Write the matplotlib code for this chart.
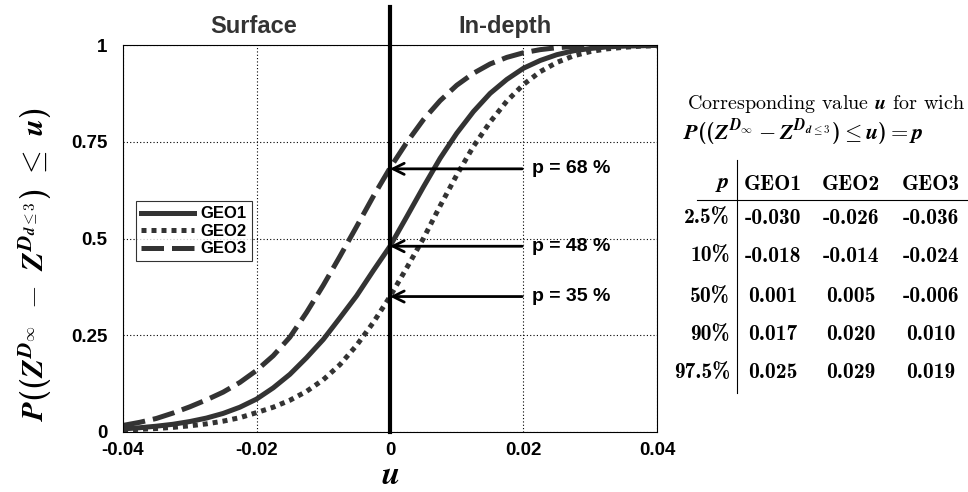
import matplotlib
matplotlib.use("Agg")
import matplotlib.pyplot as plt

plt.rcParams['font.family'] = ['Liberation Sans', 'DejaVu Sans']
plt.rcParams['mathtext.fontset'] = 'custom'
plt.rcParams['mathtext.rm'] = 'cmr10'
plt.rcParams['mathtext.it'] = 'cmmi10'
plt.rcParams['mathtext.bf'] = 'cmb10'
plt.rcParams['mathtext.bfit'] = 'STIXGeneral:italic:bold'
plt.rcParams['mathtext.fallback'] = 'cm'
plt.rcParams['axes.unicode_minus'] = False

# ---- data ----
u = [-0.0400, -0.0375, -0.0350, -0.0325, -0.0300, -0.0275, -0.0250, -0.0225,
     -0.0200, -0.0175, -0.0150, -0.0125, -0.0100, -0.0075, -0.0050, -0.0025,
     0.0000, 0.0025, 0.0050, 0.0075, 0.0100, 0.0125, 0.0150, 0.0175,
     0.0200, 0.0225, 0.0250, 0.0275, 0.0300, 0.0325, 0.0350, 0.0375, 0.0400]
geo1 = [0.008, 0.011, 0.015, 0.020, 0.027, 0.036, 0.048, 0.064,
        0.085, 0.114, 0.149, 0.192, 0.239, 0.295, 0.352, 0.417,
        0.480, 0.556, 0.633, 0.707, 0.772, 0.828, 0.875, 0.911,
        0.940, 0.960, 0.975, 0.985, 0.991, 0.995, 0.997, 0.998, 0.999]
geo2 = [0.005, 0.007, 0.009, 0.012, 0.016, 0.021, 0.028, 0.037,
        0.050, 0.064, 0.082, 0.105, 0.135, 0.174, 0.224, 0.283,
        0.350, 0.424, 0.500, 0.584, 0.664, 0.738, 0.801, 0.855,
        0.898, 0.931, 0.955, 0.972, 0.983, 0.990, 0.994, 0.997, 0.998]
geo3 = [0.017, 0.025, 0.035, 0.049, 0.065, 0.083, 0.103, 0.128,
        0.159, 0.197, 0.245, 0.309, 0.379, 0.454, 0.531, 0.609,
        0.682, 0.748, 0.807, 0.856, 0.896, 0.927, 0.951, 0.968,
        0.980, 0.988, 0.993, 0.996, 0.998, 0.999, 0.999, 1.000, 1.000]
series_names = ["GEO1", "GEO2", "GEO3"]
arrow_p = [0.68, 0.48, 0.35]
arrow_labels = ["p = 68 %", "p = 48 %", "p = 35 %"]
xticks = [-0.04, -0.02, 0, 0.02, 0.04]
xticklabels = ["-0.04", "-0.02", "0", "0.02", "0.04"]
yticks = [0, 0.25, 0.5, 0.75, 1]
yticklabels = ["0", "0.25", "0.5", "0.75", "1"]
table_p = ["2.5%", "10%", "50%", "90%", "97.5%"]
table_geo1 = ["-0.030", "-0.018", "0.001", "0.017", "0.025"]
table_geo2 = ["-0.026", "-0.014", "0.005", "0.020", "0.029"]
table_geo3 = ["-0.036", "-0.024", "-0.006", "0.010", "0.019"]

W, H = 968, 492
fig = plt.figure(figsize=(W / 100, H / 100), dpi=100)
ax = fig.add_axes([123 / W, 1 - 432 / H, (657 - 123) / W, (432 - 45) / H])

col = '#333333'
lw = 3.6
ax.plot(u, geo1, color=col, lw=lw, ls='-', label=series_names[0])
ax.plot(u, geo2, color=col, lw=lw, ls=(0, (1, 1)), label=series_names[1])
ax.plot(u, geo3, color=col, lw=lw, ls=(0, (4.5, 1.6)), label=series_names[2])

ax.set_xlim(-0.04, 0.04)
ax.set_ylim(0, 1)
ax.set_xticks(xticks)
ax.set_xticklabels(xticklabels, fontweight='bold', fontsize=13.5)
ax.set_yticks(yticks)
ax.set_yticklabels(yticklabels, fontweight='bold', fontsize=13.5)
ax.tick_params(axis='y', length=0, pad=11)
ax.tick_params(axis='x', length=0, pad=7)
ax.grid(True, color='black', ls=(0, (1, 2)), lw=0.8)
for s in ax.spines.values():
    s.set_linewidth(0.8)

# vertical separator
ax.plot([0, 0], [0, 1.097], color='black', lw=3, clip_on=False, zorder=5)
ax.text(-0.0205, 1.048, "Surface", ha='center', va='center', fontsize=17,
        fontweight='bold', color=col)
ax.text(0.0172, 1.048, "In-depth", ha='center', va='center', fontsize=17,
        fontweight='bold', color=col)

for p, lab in zip(arrow_p, arrow_labels):
    ax.annotate("", xy=(0, p), xytext=(0.0198, p),
                arrowprops=dict(arrowstyle='->', color='black', lw=2,
                                mutation_scale=20, shrinkA=0, shrinkB=0))
    ax.text(0.0213, p, lab, ha='left', va='center', fontsize=14,
            fontweight='bold', color='black')

leg = ax.legend(loc='upper left', bbox_to_anchor=(0.024, 0.596),
                prop={'weight': 'bold', 'size': 12}, frameon=True,
                fancybox=False, edgecolor='black', handlelength=3.2,
                borderpad=0.3, labelspacing=0.15, handletextpad=0.4,
                borderaxespad=0)
leg.get_frame().set_linewidth(0.8)

ax.set_xlabel(r'$\mathbfit{u}$', fontsize=24, va='center')
ax.xaxis.set_label_coords(0.5, -0.112)
ax.set_ylabel(r'$\mathbfit{P}\mathbf{((}\mathbfit{Z}^{\mathbfit{D}_{\infty}}\ -\ '
              r'\mathbfit{Z}^{\mathbfit{D}_{\mathbfit{d}\leq 3}}\mathbf{)}\ \leq\ '
              r'\mathbfit{u}\mathbf{)}$', fontsize=22, va='center')
ax.yaxis.set_label_coords(-0.165, 0.435)

# ---- table ----
def fx(px):
    return px / W

def fy(py):
    return 1 - py / H

fig.text(fx(965), fy(104), r"Corresponding value $\mathbfit{u}$ for wich",
         ha='right', va='center', fontsize=14.5, family='cmr10')
fig.text(fx(683), fy(133),
         r"$\mathbfit{P}\mathbf{((}\mathbfit{Z}^{\mathbfit{D}_{\infty}}-"
         r"\mathbfit{Z}^{\mathbfit{D}_{\mathbfit{d}\leq 3}}\mathbf{)}\leq "
         r"\mathbfit{u}\mathbf{)}=\mathbfit{p}$",
         ha='left', va='center', fontsize=16)

rows_y = [218, 256, 297, 335, 373]
colx = [773, 851, 931]
fs_tab = 15.5
fig.text(fx(730), fy(184), r"$\mathbfit{p}$", ha='right', va='center', fontsize=16)
for name, xc in zip(series_names, colx):
    fig.text(fx(xc), fy(184), name, ha='center', va='center', fontsize=fs_tab,
             family='cmb10')
for i, y in enumerate(rows_y):
    fig.text(fx(730), fy(y), table_p[i], ha='right', va='center', fontsize=fs_tab,
             family='cmb10')
    for vals, xc in zip([table_geo1, table_geo2, table_geo3], colx):
        fig.text(fx(xc), fy(y), vals[i], ha='center', va='center', fontsize=fs_tab,
                 family='cmb10')

fig.add_artist(plt.Line2D([fx(697), fx(968)], [fy(200), fy(200)], color='black', lw=0.8))
fig.add_artist(plt.Line2D([fx(737), fx(737)], [fy(160), fy(393)], color='black', lw=0.8))

fig.savefig("out.png", dpi=100)
